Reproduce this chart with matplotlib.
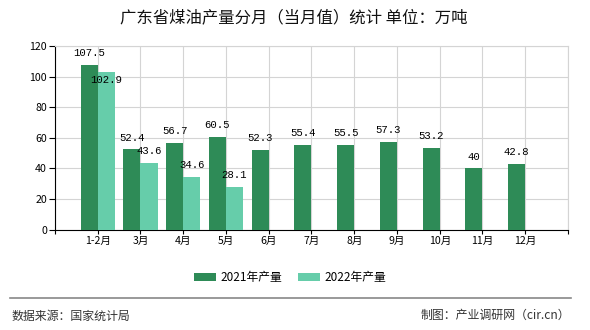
import matplotlib
matplotlib.use("Agg")
import matplotlib.pyplot as plt
from matplotlib.lines import Line2D
import numpy as np

plt.rcParams['font.family'] = ['Noto Sans CJK SC', 'DejaVu Sans']

months = ['1-2月', '3月', '4月', '5月', '6月', '7月', '8月', '9月', '10月', '11月', '12月']
prod_2021 = [107.5, 52.4, 56.7, 60.5, 52.3, 55.4, 55.5, 57.3, 53.2, 40, 42.8]
prod_2022 = [102.9, 43.6, 34.6, 28.1]
labels_2021 = ['107.5', '52.4', '56.7', '60.5', '52.3', '55.4', '55.5', '57.3', '53.2', '40', '42.8']
labels_2022 = ['102.9', '43.6', '34.6', '28.1']

c2021 = '#2e8b57'
c2022 = '#66cdaa'
mono = ['Liberation Mono', 'DejaVu Sans Mono']

fig = plt.figure(figsize=(5.9, 3.3), dpi=100)
ax = fig.add_axes([0.0932, 0.3045, 0.8695, 0.556])

x = np.arange(len(months))
w = 0.4
b1 = ax.bar(x - w / 2, prod_2021, width=w, color=c2021, label='2021年产量', zorder=3)
x2 = np.arange(len(prod_2022))
b2 = ax.bar(x2 + w / 2, prod_2022, width=w, color=c2022, label='2022年产量', zorder=3)

# value labels above the bars
for xi, v, t in zip(x, prod_2021, labels_2021):
    ax.annotate(t, (xi - w / 2, v), xytext=(0, 8.5), textcoords='offset points',
                ha='center', va='center', fontsize=7.7, family=mono, zorder=4)
for xi, v, t in zip(x2, prod_2022, labels_2022):
    # the 2022 label is pushed down into the bar when it would hit the 2021 one
    dy = -5.3 if abs(prod_2021[xi] - v) < 6 else 8.5
    ax.annotate(t, (xi + w / 2, v), xytext=(0, dy), textcoords='offset points',
                ha='center', va='center', fontsize=7.7, family=mono, zorder=4)

ax.set_xlim(-1, 11)
ax.set_ylim(0, 120)
ax.set_yticks(range(0, 121, 20))
ax.set_xticks(np.arange(-1, 12))
ax.set_xticklabels([''] + months + [''])
ax.tick_params(axis='x', labelsize=7.6, length=2.6, pad=2, color='black')
ax.tick_params(axis='y', labelsize=7.6, length=4, pad=1.8, color='black')
ax.grid(True, color='#d4d4d4', linewidth=0.8, zorder=0)
for s in ['top', 'right']:
    ax.spines[s].set_color('#d4d4d4')
    ax.spines[s].set_linewidth(0.8)
ax.spines['left'].set_color('black')
ax.spines['bottom'].set_color('black')

fig.text(0.498, 0.945, '广东省煤油产量分月（当月值）统计 单位：万吨', ha='center', va='center',
         fontsize=11.8, color='#111111')

fig.legend(handles=[b1, b2], loc='center', bbox_to_anchor=(0.492, 0.158), ncol=2,
           frameon=False, fontsize=8.5, handlelength=1.86, handleheight=0.7,
           columnspacing=1.36, handletextpad=0.36)

fig.add_artist(Line2D([0.017, 0.968], [0.096, 0.096], color='#888888', linewidth=1.2,
                      transform=fig.transFigure))
fig.text(0.02, 0.043, '数据来源：国家统计局', ha='left', va='center', fontsize=8.6,
         color='#333333')
fig.text(0.966, 0.043, '制图：产业调研网（cir.cn）', ha='right', va='center', fontsize=8.6,
         color='#333333')

fig.savefig('out.png', dpi=100, facecolor='white')
